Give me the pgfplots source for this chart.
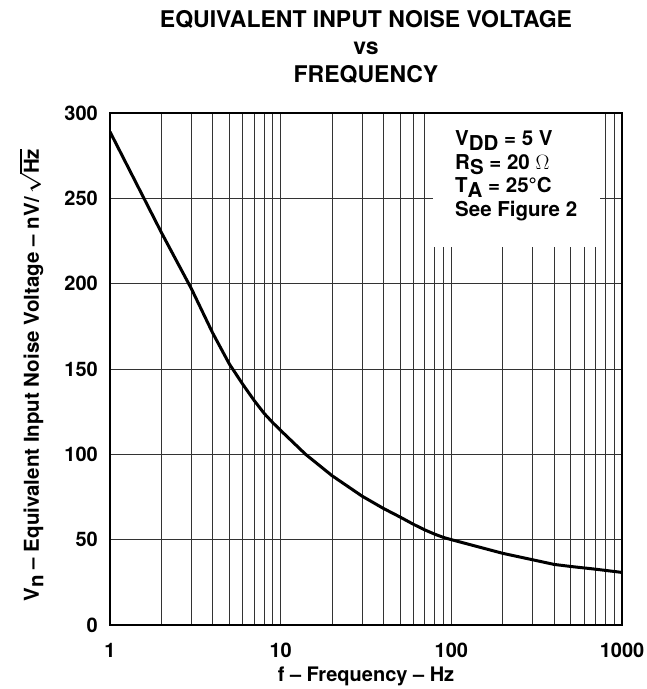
\documentclass[border=0pt]{standalone}
\usepackage{fontspec}
\setmainfont{TeX Gyre Heros}
\usepackage{graphicx}
\usepackage{pgfplots}
\pgfplotsset{compat=1.18}
\newcommand\sub[1]{\raisebox{-0.4ex}{#1}}
\begin{document}
\begin{tikzpicture}
\useasboundingbox (-110pt,-64pt) rectangle (537pt,625pt);
\begin{axis}[
  at={(0pt,0pt)}, anchor=south west,
  scale only axis, width=512pt, height=512pt,
  xmode=log, xmin=1, xmax=1000, ymin=0, ymax=300,
  xtick={1,10,100,1000}, xticklabels={1,10,100,1000},
  ytick={0,50,100,150,200,250,300},
  xmajorgrids=true, xminorgrids=true, ymajorgrids=true,
  major tick length=0pt, minor tick length=0pt,
  axis line style={line width=1.8pt},
  major grid style={line width=0.9pt, black!80},
  minor grid style={line width=0.9pt, black!80},
  /pgf/number format/assume math mode=true,
  tick label style={font=\bfseries\fontsize{20}{24}\selectfont},
  yticklabel style={anchor=east, inner sep=0pt, xshift=-12pt},
  xticklabel style={anchor=base, inner sep=0pt, yshift=-32pt},
]
\fill[white] (axis cs:78,221.5) rectangle (axis cs:745,299.2);
\addplot[black, line width=3pt, line join=round] coordinates {
(1,289) (2,230) (3,197) (4,171) (5,153) (6,141) (7,131.5) (8,124) (9,118.5)
(10,114) (14,100) (20,87.5) (30,75.5) (40,68.3) (50,63.3) (60,59) (70,55.7)
(80,53.2) (90,51.3) (100,50) (200,42) (300,38.2) (400,35.5) (500,34.3)
(700,32.7) (1000,30.8)
};
\end{axis}
\begin{scope}[every node/.style={font=\bfseries\fontsize{23}{27}\selectfont, anchor=base}]
\node at (256pt,597pt) {EQUIVALENT INPUT NOISE VOLTAGE};
\node at (256pt,570pt) {vs};
\node at (256pt,542pt) {FREQUENCY};
\end{scope}
\begin{scope}[every node/.style={font=\bfseries\fontsize{20.5}{24}\selectfont, anchor=base west, inner sep=0pt}]
\node at (345pt,479pt) {V\sub{DD} = 5 V};
\node at (345pt,455pt) {R\sub{S} = 20 $\Omega$};
\node at (345pt,432pt) {T\sub{A} = 25°C};
\node at (345pt,408pt) {See Figure 2};
\end{scope}
\node[font=\bfseries\fontsize{20}{24}\selectfont, anchor=base, inner sep=0pt] at (256pt,-56pt) {f – Frequency – Hz};
\node[font=\bfseries\fontsize{20.5}{24}\selectfont, anchor=base, inner sep=0pt, rotate=90] at (-71pt,250pt) {V\sub{n} – Equivalent Input Noise Voltage – nV/\,{\boldmath$\sqrt{\hbox{\bfseries Hz}}$}};
\end{tikzpicture}
\end{document}
